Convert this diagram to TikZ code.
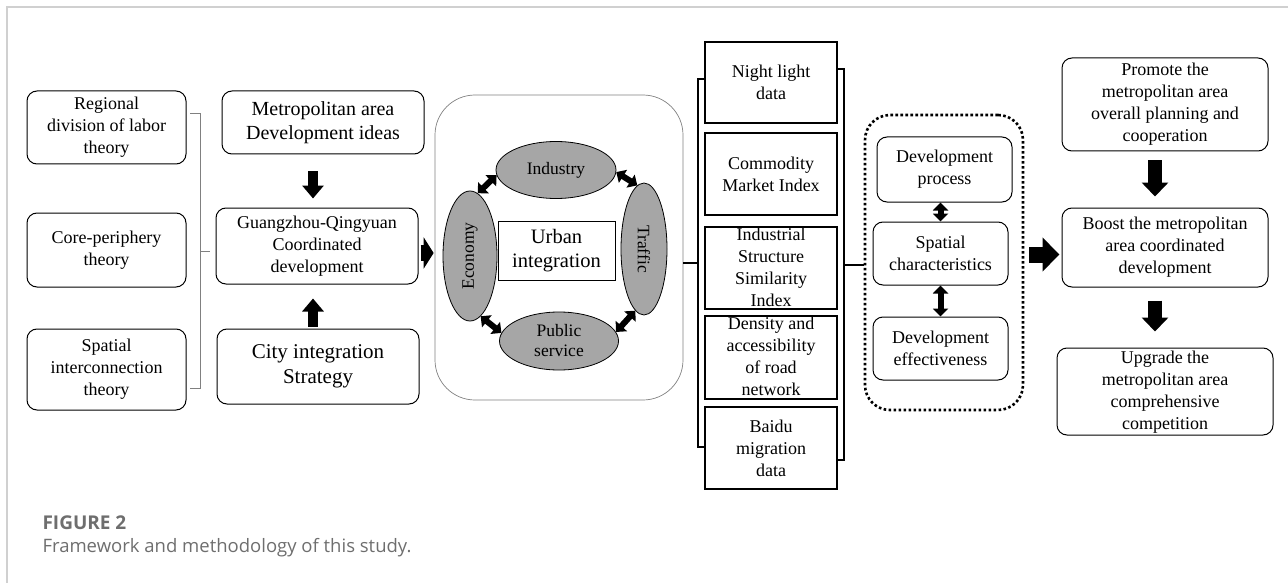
\documentclass[tikz,border=0pt]{standalone}
\usepackage{fontspec}
\setmainfont{Liberation Serif}
\newfontfamily\capfont{Open Sans}
\usetikzlibrary{arrows.meta,shapes.geometric}
\definecolor{capgray}{HTML}{6E6E6E}
\definecolor{framegray}{HTML}{D0D0D0}
\definecolor{elgray}{HTML}{A6A6A6}
% text that may run over its box
\newcommand{\ov}[1]{\smash{\raisebox{-5pt}{\begin{tabular}{@{}c@{}}#1\end{tabular}}}}

\begin{document}
\begin{tikzpicture}[x=1pt,y=-1pt,>=Stealth,font=\fontsize{18}{22}\selectfont]
\tikzstyle{rb}=[draw,rounded corners=10pt,line width=1pt,align=center,inner sep=2pt]
\tikzstyle{sq}=[draw,line width=1.1pt,align=center,inner sep=2pt,minimum width=132pt]
\tikzstyle{el}=[ellipse,draw,fill=elgray,line width=0.8pt,inner sep=0pt,align=center,font=\fontsize{17.5}{20}\selectfont]
\tikzstyle{blkd}=[line width=10pt,-{Triangle[width=21pt,length=13pt]}]
\tikzstyle{blkr}=[line width=16pt,-{Triangle[width=31pt,length=10pt]}]
\tikzstyle{blkf}=[line width=14pt,-{Triangle[width=26pt,length=14pt]}]
\tikzstyle{dbl}=[line width=6pt,{Triangle[width=15pt,length=8pt]}-{Triangle[width=15pt,length=8pt]}]
\useasboundingbox (0,0) rectangle (1288,583);
\draw[framegray,line width=1.2pt] (7,583) -- (7,7) -- (1288,7);
% theories
\node[rb,minimum width=159pt,minimum height=73pt] (l1) at (106.5,127.5) {Regional\\division of labor\\theory};
\node[rb,minimum width=159pt,minimum height=74pt] (l2) at (106.5,250) {Core-periphery\\theory};
\node[rb,minimum width=159pt,minimum height=81pt] (l3) at (106.5,369.5) {Spatial\\interconnection\\theory};
\coordinate (lb1) at (200,113); \coordinate (lb2) at (200,388); \coordinate (lbm) at (200,251);
\draw[gray,line width=0.8pt] ([xshift=-10pt]lb1) -- (lb1) -- (lb2) -- ([xshift=-10pt]lb2); \draw[gray,line width=0.8pt] (lbm) -- ++(10,0);
% guangzhou-qingyuan
\node[rb,minimum width=202pt,minimum height=63pt,font=\fontsize{20}{24.5}\selectfont] (meta) at (323,122.5) {Metropolitan area\\Development ideas};
\node[rb,minimum width=202pt,minimum height=76pt] (gq) at (317,246) {Guangzhou-Qingyuan\\Coordinated\\development};
\node[rb,minimum width=202pt,minimum height=75pt,font=\fontsize{21}{25}\selectfont] (city) at (318,366.5) {City integration\\Strategy};
\draw[blkd] ([xshift=-10pt,yshift=-17pt]meta.south) -- ([xshift=-4pt,yshift=9pt]gq.north);
\draw[blkd] ([xshift=-5pt,yshift=2pt]city.north) -- ([xshift=-4pt,yshift=-14pt]gq.south);
% urban integration
\node[draw=gray,line width=0.7pt,rounded corners=40pt,minimum width=248pt,minimum height=305pt] (big) at (559,247.5) {};
\draw[blkr] ([xshift=2pt,yshift=-7pt]gq.east) -- ([xshift=-1pt,yshift=-5.5pt]big.west);
\node[el,minimum width=120pt,minimum height=57pt] (ind) at (556,170) {Industry};
\node[el,minimum width=119pt,minimum height=58pt] (pub) at (559,341) {Public\\service};
\node[el,minimum width=130pt,minimum height=54pt,rotate=90] (eco) at (470,256) {Economy};
\node[el,minimum width=132pt,minimum height=46pt,rotate=-90] (tra) at (644,249) {Traffic};
\node[draw,line width=1pt,minimum width=117pt,minimum height=59pt,align=center,font=\fontsize{20.5}{24}\selectfont] (urb) at (556.5,250.5) {Urban\\integration};
\draw[dbl] (eco.-7) -- (ind.185); \draw[dbl] (ind.-2) -- (tra.186);
\draw[dbl] (eco.190) -- (pub.172); \draw[dbl] (tra.-8) -- (pub.9);
% data
\node[sq,minimum height=81pt] (d1) at (771,82.5) {Night light\\data};
\node[sq,minimum height=82pt] (d2) at (771,174) {Commodity\\Market Index};
\node[sq,minimum height=82pt] (d3) at (771,268) {\ov{Industrial\\Structure\\Similarity\\Index}};
\node[sq,minimum height=83pt] (d4) at (771,357.5) {\ov{Density and\\accessibility\\of road\\network}};
\node[sq,minimum height=82pt] (d5) at (771,448) {Baidu\\migration\\data};
\coordinate (mb1) at (698,79); \coordinate (mb2) at (698,447); \coordinate (mbm) at (698,263);
\draw[line width=2pt] (d1.west|-mb1) -- (mb1) -- (mb2) -- (d1.west|-mb2); \draw[line width=2pt] (big.east|-mbm) -- (mbm);
% characteristics
\node[draw,line width=2.6pt,dash pattern=on 2.6pt off 2.4pt,rounded corners=25pt,minimum width=158pt,minimum height=295pt] (dot) at (944,262.5) {};
\coordinate (rb1) at (844,69); \coordinate (rb2) at (844,460); \coordinate (rbm) at (844,265);
\draw[line width=2pt] ([xshift=-6pt]rb1) -- (rb1) -- (rb2) -- ([xshift=-6pt]rb2); \draw[line width=2pt] (rbm) -- (dot.west|-rbm);
\node[rb,minimum width=135pt,minimum height=65pt] (p1) at (944.5,169.5) {Development\\process};
\node[rb,minimum width=135pt,minimum height=63pt] (p2) at (940.5,253.5) {Spatial\\characteristics};
\node[rb,minimum width=135pt,minimum height=63pt] (p3) at (940.5,348.5) {Development\\effectiveness};
\draw[dbl] (p1.south-|p2.north) -- (p2.north); \draw[dbl] (p2.south) -- (p3.north);
% results
\node[rb,minimum width=206pt,minimum height=93pt] (r1) at (1165,104.5) {Promote the\\metropolitan area\\overall planning and\\cooperation};
\node[rb,minimum width=206pt,minimum height=79pt] (r2) at (1165,247.5) {Boost the metropolitan\\area coordinated\\development};
\node[rb,minimum width=216pt,minimum height=87pt] (r3) at (1165,391.5) {\ov{Upgrade the\\metropolitan area\\comprehensive\\competition}};
\draw[blkr,-{Triangle[width=33pt,length=17pt]}] ([xshift=5pt,yshift=8pt]dot.east) -- ([xshift=-2pt,yshift=-7pt]r2.west);
\draw[blkf] ([xshift=-10pt,yshift=-9pt]r1.south) -- ([xshift=-10pt,yshift=11pt]r2.north);
\draw[blkf] ([xshift=-10pt,yshift=-13pt]r2.south) -- ([xshift=-10pt,yshift=16pt]r3.north);
% caption
\node[anchor=west,text=capgray,font=\capfont\bfseries\fontsize{19}{22}\selectfont] (fig) at (39,523) {FIGURE 2};
\node[anchor=west,text=capgray,font=\capfont\fontsize{18.5}{22}\selectfont] (cap) at (39,548) {Framework and methodology of this study.};
\end{tikzpicture}
\end{document}
